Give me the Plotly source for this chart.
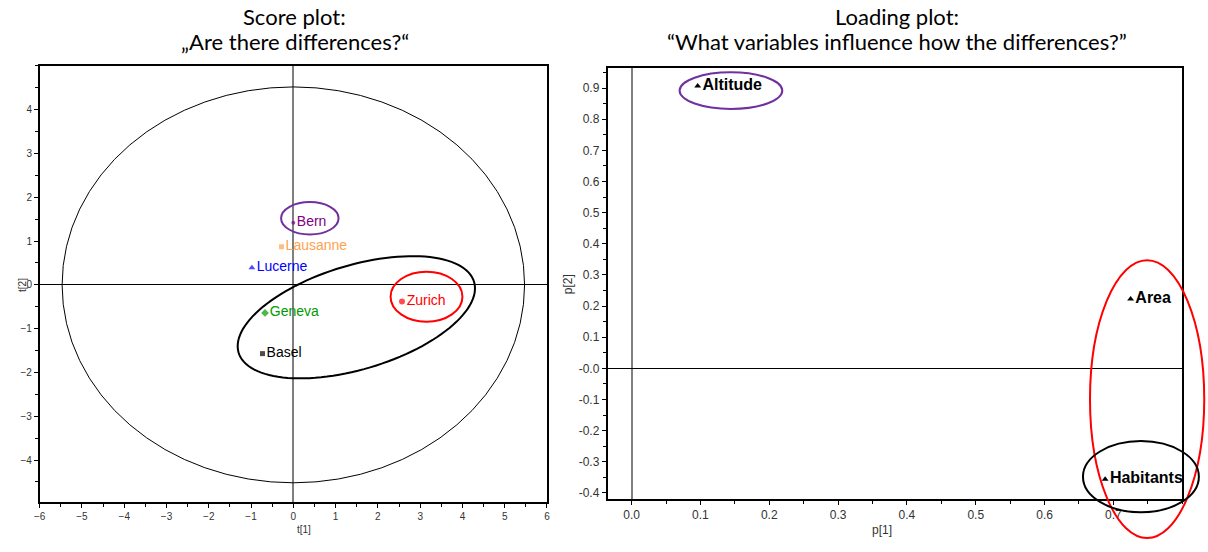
import numpy as np
import plotly.graph_objects as go

# --- Score plot data (t[1], t[2]) ---
cities = ["Bern", "Lausanne", "Lucerne", "Geneva", "Basel", "Zurich"]
t1 = [0.00, -0.28, -0.98, -0.67, -0.73, 2.57]
t2 = [1.42, 0.87, 0.39, -0.64, -1.57, -0.38]
city_colors = ["#800080", "#FFA24F", "#0000FF", "#009A00", "#000000", "#FF0000"]
city_symbols = ["circle", "square", "triangle-up", "diamond", "square", "circle"]
city_sizes = [4, 5, 6, 6, 5, 6]

# --- Loading plot data (p[1], p[2]) ---
variables = ["Altitude", "Area", "Habitants"]
p1 = [0.096, 0.725, 0.688]
p2 = [0.907, 0.223, -0.356]

# --- Tick labels ---
t1_ticks = [-6, -5, -4, -3, -2, -1, 0, 1, 2, 3, 4, 5, 6]
t2_ticks = [-4, -3, -2, -1, 0, 1, 2, 3, 4]
p1_ticks = [0.0, 0.1, 0.2, 0.3, 0.4, 0.5, 0.6, 0.7]
p1_labels = ["0.0", "0.1", "0.2", "0.3", "0.4", "0.5", "0.6", "0.7"]
p2_ticks = [-0.4, -0.3, -0.2, -0.1, 0.0, 0.1, 0.2, 0.3, 0.4, 0.5, 0.6, 0.7, 0.8, 0.9]
p2_labels = ["-0.4", "-0.3", "-0.2", "-0.1", "-0.0", "0.1", "0.2", "0.3",
             "0.4", "0.5", "0.6", "0.7", "0.8", "0.9"]

# Hotelling T2 ellipse radii for the score plot
t2_ellipse = (5.47, 4.52)

# Axis ranges
t1_range = [-6.0, 6.0]
t2_range = [-4.96, 5.0]
p1_range = [-0.035, 0.80]
p2_range = [-0.42, 0.965]

TICK_FONT = "Liberation Sans, Arial, sans-serif"
TITLE_FONT = "Lato, Carlito, Calibri, sans-serif"

fig = go.Figure()

fig.add_trace(go.Scatter(
    x=t1, y=t2, text=cities, mode="markers+text",
    textposition="middle right",
    marker=dict(color=city_colors, symbol=city_symbols, size=city_sizes, line=dict(width=0)),
    textfont=dict(color=city_colors, size=14, family=TICK_FONT),
    cliponaxis=False, showlegend=False, xaxis="x", yaxis="y",
))

fig.add_trace(go.Scatter(
    x=p1, y=p2, text=["<b>%s</b>" % v for v in variables], mode="markers+text",
    textposition="middle right",
    marker=dict(color="black", symbol="triangle-up", size=6),
    textfont=dict(color="black", size=16, family=TICK_FONT),
    cliponaxis=False, showlegend=False, xaxis="x2", yaxis="y2",
))

axis_common = dict(
    showgrid=False, showline=True, mirror=True, linecolor="black",
    ticks="outside", ticklen=4, tickcolor="black", tickwidth=1,
    tickfont=dict(family=TICK_FONT, color="#333333"),
    zeroline=True,
)

fig.update_layout(
    width=1208, height=552,
    margin=dict(l=0, r=0, t=0, b=0),
    paper_bgcolor="white", plot_bgcolor="white",
    xaxis=dict(axis_common, domain=[0.0281, 0.4512], range=t1_range, anchor="y",
               tickmode="array", tickvals=t1_ticks, linewidth=1.5,
               tickfont=dict(family=TICK_FONT, color="#333333", size=10),
               minor=dict(tickmode="linear", tick0=0, dtick=0.5, ticks="outside", ticklen=3, tickcolor="black"),
               zerolinecolor="#7f7f7f", zerolinewidth=2),
    yaxis=dict(axis_common, domain=[0.0888, 0.8804], range=t2_range, anchor="x",
               tickmode="array", tickvals=t2_ticks, linewidth=1.5,
               tickfont=dict(family=TICK_FONT, color="#333333", size=10),
               minor=dict(tickmode="linear", tick0=0, dtick=0.5, ticks="outside", ticklen=3, tickcolor="black"),
               zerolinecolor="black", zerolinewidth=1),
    xaxis2=dict(axis_common, domain=[0.5017, 0.981], range=p1_range, anchor="y2",
                tickmode="array", tickvals=p1_ticks, ticktext=p1_labels, linewidth=1.5,
                tickfont=dict(family=TICK_FONT, color="#333333", size=12),
                minor=dict(tickmode="linear", tick0=0, dtick=0.05, ticks="outside", ticklen=3, tickcolor="black"),
                zerolinecolor="#7f7f7f", zerolinewidth=1.5),
    yaxis2=dict(axis_common, domain=[0.0942, 0.8768], range=p2_range, anchor="x2",
                tickmode="array", tickvals=p2_ticks, ticktext=p2_labels, linewidth=1.5,
                tickfont=dict(family=TICK_FONT, color="#333333", size=12),
                minor=dict(tickmode="linear", tick0=0, dtick=0.05, ticks="outside", ticklen=3, tickcolor="black"),
                zerolinecolor="black", zerolinewidth=1),
)

# Titles
title_specs = [
    (0.2409, 0.9692, "Score plot:"),
    (0.2409, 0.9239, "\u201eAre there differences?\u201c"),
    (0.7430, 0.9692, "Loading plot:"),
    (0.7430, 0.9239, "\u201cWhat variables influence how the differences?\u201d"),
]
for x, y, txt in title_specs:
    fig.add_annotation(x=x, y=y, xref="paper", yref="paper", text=txt, showarrow=False,
                       xanchor="center", yanchor="middle",
                       font=dict(family=TITLE_FONT, size=22, color="black"))

# Axis titles
fig.add_annotation(x=0.0075, y=0.4837, xref="paper", yref="paper", text="t[2]", textangle=-90,
                   showarrow=False, font=dict(family=TICK_FONT, size=10, color="#333333"))
fig.add_annotation(x=0.2409, y=0.0254, xref="paper", yref="paper", text="t[1]",
                   showarrow=False, font=dict(family=TICK_FONT, size=10, color="#333333"))
fig.add_annotation(x=0.4694, y=0.4837, xref="paper", yref="paper", text="p[2]", textangle=-90,
                   showarrow=False, font=dict(family=TICK_FONT, size=12, color="#333333"))
fig.add_annotation(x=0.7409, y=0.0217, xref="paper", yref="paper", text="p[1]",
                   showarrow=False, font=dict(family=TICK_FONT, size=12, color="#333333"))

# Hotelling T2 ellipse
fig.add_shape(type="circle", xref="x", yref="y",
              x0=-t2_ellipse[0], x1=t2_ellipse[0], y0=-t2_ellipse[1], y1=t2_ellipse[1],
              line=dict(color="black", width=1))

# Highlight ellipses on the score plot
fig.add_shape(type="circle", xref="x", yref="y", x0=0.39 - 0.68, x1=0.39 + 0.68,
              y0=1.52 - 0.37, y1=1.52 + 0.37, line=dict(color="#7030A0", width=2))
fig.add_shape(type="circle", xref="x", yref="y", x0=3.15 - 0.85, x1=3.15 + 0.85,
              y0=-0.27 - 0.57, y1=-0.27 + 0.57, line=dict(color="#FF0000", width=2))

# Tilted ellipse around Basel, Geneva and Zurich
cx, cy, a, b, ang = 1.49, -0.74, 2.9, 1.19, np.deg2rad(16)
tt = np.linspace(0, 2 * np.pi, 121)
ex = cx + a * np.cos(tt) * np.cos(ang) - b * np.sin(tt) * np.sin(ang)
ey = cy + a * np.cos(tt) * np.sin(ang) + b * np.sin(tt) * np.cos(ang)
path = "M " + " L ".join("%.4f,%.4f" % (px, py) for px, py in zip(ex, ey)) + " Z"
fig.add_shape(type="path", xref="x", yref="y", path=path, line=dict(color="black", width=2))


# Loading plot ellipses (domain refs so they may extend past the frame)
def dom(v, rng):
    return (v - rng[0]) / (rng[1] - rng[0])


loading_ellipses = [
    (0.1443, 0.892, 0.0746, 0.0587, "#7030A0"),
    (0.749, -0.099, 0.083, 0.446, "#FF0000"),
    (0.740, -0.348, 0.0842, 0.1143, "black"),
]
for ecx, ecy, erx, ery, col in loading_ellipses:
    fig.add_shape(type="circle", xref="x2 domain", yref="y2 domain",
                  x0=dom(ecx - erx, p1_range), x1=dom(ecx + erx, p1_range),
                  y0=dom(ecy - ery, p2_range), y1=dom(ecy + ery, p2_range),
                  line=dict(color=col, width=2))

fig.write_html("out.html")
